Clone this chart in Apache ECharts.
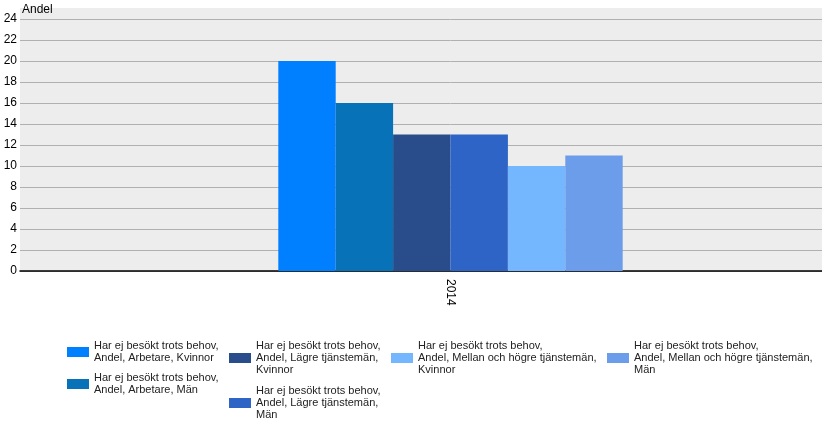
<!DOCTYPE html>
<html><head><meta charset="utf-8">
<script src="https://cdn.jsdelivr.net/npm/echarts@6/dist/echarts.min.js"></script>
<style>html,body{margin:0;padding:0;background:#fff;overflow:hidden;width:822px;height:426px}#c{width:881px;height:426px}</style>
</head><body><div id="c"></div>
<script>
const categories = ['2014'];
const seriesNames = [
  'Har ej besökt trots behov, Andel, Arbetare, Kvinnor',
  'Har ej besökt trots behov, Andel, Arbetare, Män',
  'Har ej besökt trots behov, Andel, Lägre tjänstemän, Kvinnor',
  'Har ej besökt trots behov, Andel, Lägre tjänstemän, Män',
  'Har ej besökt trots behov, Andel, Mellan och högre tjänstemän, Kvinnor',
  'Har ej besökt trots behov, Andel, Mellan och högre tjänstemän, Män'
];
const legendLabels = [
  'Har ej besökt trots behov,\nAndel, Arbetare, Kvinnor',
  'Har ej besökt trots behov,\nAndel, Arbetare, Män',
  'Har ej besökt trots behov,\nAndel, Lägre tjänstemän,\nKvinnor',
  'Har ej besökt trots behov,\nAndel, Lägre tjänstemän,\nMän',
  'Har ej besökt trots behov,\nAndel, Mellan och högre tjänstemän,\nKvinnor',
  'Har ej besökt trots behov,\nAndel, Mellan och högre tjänstemän,\nMän'
];
const values = [[20], [16], [13], [13], [10], [11]];
const colors = ['#007FFF', '#0772B7', '#294D8B', '#2D64C6', '#75B7FE', '#6B9DEB'];
const yTicks = {min: 0, max: 24, interval: 2};

const font = 'Liberation Sans, Arial, sans-serif';
const legendPos = [[67, 340], [67, 372], [229, 340], [229, 385], [391, 340], [607, 340]];

const chart = echarts.init(document.getElementById('c'), null, {renderer: 'canvas'});
chart.setOption({
  animation: false,
  backgroundColor: '#fff',
  graphic: [
    {type: 'rect', z: -10, shape: {x: 20, y: 8, width: 861, height: 263}, style: {fill: '#EDEDED'}},
    {type: 'text', left: 22, top: 4, style: {text: 'Andel', fontSize: 12, fontFamily: font, fill: '#000'}}
  ],
  grid: {left: 20, right: 0, top: 19, bottom: 155, containLabel: false},
  legend: seriesNames.map((n, i) => ({
    data: [n], left: legendPos[i][0], top: legendPos[i][1], padding: 0,
    itemWidth: 22, itemHeight: 10, icon: 'rect',
    formatter: () => legendLabels[i],
    textStyle: {fontSize: 11, fontFamily: font, color: '#222', lineHeight: 12},
    selectedMode: false
  })),
  xAxis: {
    type: 'category', data: categories,
    axisLine: {lineStyle: {color: '#000', width: 1.5}},
    axisTick: {show: false},
    axisLabel: {rotate: -90, color: '#000', fontSize: 12, fontFamily: font, margin: 8}
  },
  yAxis: {
    type: 'value', min: yTicks.min, max: yTicks.max, interval: yTicks.interval,
    axisLine: {show: false}, axisTick: {show: false},
    axisLabel: {color: '#000', fontSize: 12, fontFamily: font, margin: 3},
    splitLine: {lineStyle: {color: '#B0B0B0', width: 1}}
  },
  series: seriesNames.map((n, i) => ({
    name: n, type: 'bar', data: values[i], barGap: '0%', barCategoryGap: '60%',
    itemStyle: {color: colors[i]}
  }))
});
</script></body></html>
